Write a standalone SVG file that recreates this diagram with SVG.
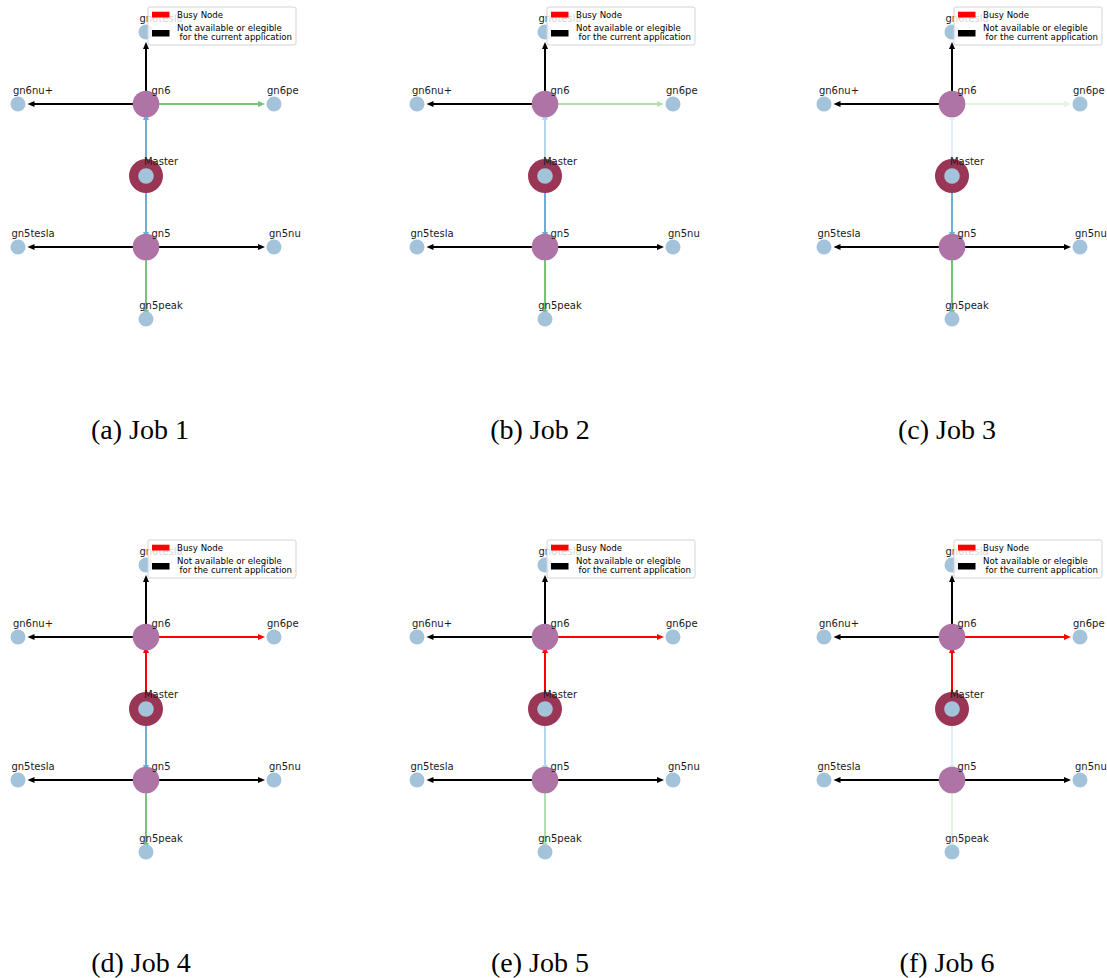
<svg xmlns="http://www.w3.org/2000/svg" xmlns:xlink="http://www.w3.org/1999/xlink" width="1107" height="978" viewBox="0 0 1107 978">
<style>
.lbl{font-family:"DejaVu Sans",sans-serif;font-size:10px;fill:#1a1a1a;text-anchor:middle}
.lg{font-family:"DejaVu Sans",sans-serif;font-size:8.6px;fill:#000}
.cap{font-family:"Liberation Serif","Times New Roman",serif;font-size:28px;fill:#000;text-anchor:middle}
.leaf{fill:#a3c3da}
.hub{fill:#ad74a5}
.ring{fill:#9a3655}
.e line{stroke-width:2}
.k line{stroke:#000}.k use{fill:#000}
.g line{stroke:#74c476}.g use{fill:#74c476}
.b line{stroke:#6baed6}.b use{fill:#6baed6}
.r line{stroke:#ff0000}.r use{fill:#ff0000}
.legbox{fill:#fff;fill-opacity:0.8;stroke:#d3d3d3;stroke-width:1}
</style>
<defs>
<path id="ah" d="M0,0 L-7,-3 L-7,3 Z"/>
</defs>
<rect width="1107" height="978" fill="#fff"/>

<!-- Panel a -->
<g id="panel-a" transform="translate(0,0)">
<g id="a-edges">
<g class="e k"><line x1="146" y1="91" x2="146" y2="48"/><use xlink:href="#ah" transform="translate(146,42) rotate(-90)"/></g>
<g class="e k"><line x1="133" y1="104" x2="33" y2="104"/><use xlink:href="#ah" transform="translate(27.5,104) rotate(180)"/></g>
<g class="e g"><line x1="159" y1="104" x2="259" y2="104"/><use xlink:href="#ah" transform="translate(265,104)"/></g>
<g class="e b"><line x1="146" y1="160" x2="146" y2="118"/><use xlink:href="#ah" transform="translate(146,113) rotate(-90)"/></g>
<g class="e b"><line x1="146" y1="192" x2="146" y2="234"/><use xlink:href="#ah" transform="translate(146,239) rotate(90)"/></g>
<g class="e k"><line x1="133" y1="247" x2="33" y2="247"/><use xlink:href="#ah" transform="translate(27.5,247) rotate(180)"/></g>
<g class="e k"><line x1="159" y1="247" x2="259" y2="247"/><use xlink:href="#ah" transform="translate(265,247)"/></g>
<g class="e g"><line x1="146" y1="260" x2="146" y2="312"/><use xlink:href="#ah" transform="translate(146,317) rotate(90)"/></g>
</g>
<g id="a-gn6tesla"><circle class="leaf" cx="146" cy="32" r="7.5"/><text class="lbl" x="161" y="22">gn6tesla</text></g>
<g id="a-gn6nu"><circle class="leaf" cx="18" cy="104" r="7.5"/><text class="lbl" x="33" y="94">gn6nu+</text></g>
<g id="a-gn6"><circle class="hub" cx="146" cy="104" r="13.3"/><text class="lbl" x="161" y="94">gn6</text></g>
<g id="a-gn6peak"><circle class="leaf" cx="274" cy="104" r="7.5"/><text class="lbl" x="267" y="94" style="text-anchor:start">gn6pe</text></g>
<g id="a-master"><circle class="ring" cx="146" cy="176" r="17"/><circle class="leaf" cx="146" cy="176" r="7.8"/><text class="lbl" x="161" y="165">Master</text></g>
<g id="a-gn5"><circle class="hub" cx="146" cy="247" r="13.3"/><text class="lbl" x="161" y="237">gn5</text></g>
<g id="a-gn5tesla"><circle class="leaf" cx="18" cy="247" r="7.5"/><text class="lbl" x="33" y="237">gn5tesla</text></g>
<g id="a-gn5nu"><circle class="leaf" cx="274" cy="247" r="7.5"/><text class="lbl" x="269" y="237" style="text-anchor:start">gn5nu</text></g>
<g id="a-gn5peak"><circle class="leaf" cx="146" cy="319" r="7.5"/><text class="lbl" x="161" y="309">gn5peak</text></g>
<g id="a-legend"><rect class="legbox" x="148" y="7" width="148" height="38" rx="2"/><rect x="152" y="11.7" width="17.5" height="5.8" fill="#ff0000"/><rect x="152" y="30" width="17.5" height="6.5" fill="#000"/><text class="lg" x="177" y="17.5">Busy Node</text><text class="lg" x="177" y="30.5">Not available or elegible</text><text class="lg" x="179.5" y="40">for the current application</text></g>
<text class="cap" x="140" y="439">(a) Job 1</text>
</g>

<!-- Panel b -->
<g id="panel-b" transform="translate(399,0)">
<g id="b-edges">
<g class="e k"><line x1="146" y1="91" x2="146" y2="48"/><use xlink:href="#ah" transform="translate(146,42) rotate(-90)"/></g>
<g class="e k"><line x1="133" y1="104" x2="33" y2="104"/><use xlink:href="#ah" transform="translate(27.5,104) rotate(180)"/></g>
<g class="e g" opacity="0.55"><line x1="159" y1="104" x2="259" y2="104"/><use xlink:href="#ah" transform="translate(265,104)"/></g>
<g class="e b" opacity="0.5"><line x1="146" y1="160" x2="146" y2="118"/><use xlink:href="#ah" transform="translate(146,113) rotate(-90)"/></g>
<g class="e b"><line x1="146" y1="192" x2="146" y2="234"/><use xlink:href="#ah" transform="translate(146,239) rotate(90)"/></g>
<g class="e k"><line x1="133" y1="247" x2="33" y2="247"/><use xlink:href="#ah" transform="translate(27.5,247) rotate(180)"/></g>
<g class="e k"><line x1="159" y1="247" x2="259" y2="247"/><use xlink:href="#ah" transform="translate(265,247)"/></g>
<g class="e g"><line x1="146" y1="260" x2="146" y2="312"/><use xlink:href="#ah" transform="translate(146,317) rotate(90)"/></g>
</g>
<g id="b-gn6tesla"><circle class="leaf" cx="146" cy="32" r="7.5"/><text class="lbl" x="161" y="22">gn6tesla</text></g>
<g id="b-gn6nu"><circle class="leaf" cx="18" cy="104" r="7.5"/><text class="lbl" x="33" y="94">gn6nu+</text></g>
<g id="b-gn6"><circle class="hub" cx="146" cy="104" r="13.3"/><text class="lbl" x="161" y="94">gn6</text></g>
<g id="b-gn6peak"><circle class="leaf" cx="274" cy="104" r="7.5"/><text class="lbl" x="267" y="94" style="text-anchor:start">gn6pe</text></g>
<g id="b-master"><circle class="ring" cx="146" cy="176" r="17"/><circle class="leaf" cx="146" cy="176" r="7.8"/><text class="lbl" x="161" y="165">Master</text></g>
<g id="b-gn5"><circle class="hub" cx="146" cy="247" r="13.3"/><text class="lbl" x="161" y="237">gn5</text></g>
<g id="b-gn5tesla"><circle class="leaf" cx="18" cy="247" r="7.5"/><text class="lbl" x="33" y="237">gn5tesla</text></g>
<g id="b-gn5nu"><circle class="leaf" cx="274" cy="247" r="7.5"/><text class="lbl" x="269" y="237" style="text-anchor:start">gn5nu</text></g>
<g id="b-gn5peak"><circle class="leaf" cx="146" cy="319" r="7.5"/><text class="lbl" x="161" y="309">gn5peak</text></g>
<g id="b-legend"><rect class="legbox" x="148" y="7" width="148" height="38" rx="2"/><rect x="152" y="11.7" width="17.5" height="5.8" fill="#ff0000"/><rect x="152" y="30" width="17.5" height="6.5" fill="#000"/><text class="lg" x="177" y="17.5">Busy Node</text><text class="lg" x="177" y="30.5">Not available or elegible</text><text class="lg" x="179.5" y="40">for the current application</text></g>
<text class="cap" x="141" y="439">(b) Job 2</text>
</g>

<!-- Panel c -->
<g id="panel-c" transform="translate(806,0)">
<g id="c-edges">
<g class="e k"><line x1="146" y1="91" x2="146" y2="48"/><use xlink:href="#ah" transform="translate(146,42) rotate(-90)"/></g>
<g class="e k"><line x1="133" y1="104" x2="33" y2="104"/><use xlink:href="#ah" transform="translate(27.5,104) rotate(180)"/></g>
<g class="e g" opacity="0.2"><line x1="159" y1="104" x2="259" y2="104"/><use xlink:href="#ah" transform="translate(265,104)"/></g>
<g class="e b" opacity="0.2"><line x1="146" y1="160" x2="146" y2="118"/><use xlink:href="#ah" transform="translate(146,113) rotate(-90)"/></g>
<g class="e b"><line x1="146" y1="192" x2="146" y2="234"/><use xlink:href="#ah" transform="translate(146,239) rotate(90)"/></g>
<g class="e k"><line x1="133" y1="247" x2="33" y2="247"/><use xlink:href="#ah" transform="translate(27.5,247) rotate(180)"/></g>
<g class="e k"><line x1="159" y1="247" x2="259" y2="247"/><use xlink:href="#ah" transform="translate(265,247)"/></g>
<g class="e g"><line x1="146" y1="260" x2="146" y2="312"/><use xlink:href="#ah" transform="translate(146,317) rotate(90)"/></g>
</g>
<g id="c-gn6tesla"><circle class="leaf" cx="146" cy="32" r="7.5"/><text class="lbl" x="161" y="22">gn6tesla</text></g>
<g id="c-gn6nu"><circle class="leaf" cx="18" cy="104" r="7.5"/><text class="lbl" x="33" y="94">gn6nu+</text></g>
<g id="c-gn6"><circle class="hub" cx="146" cy="104" r="13.3"/><text class="lbl" x="161" y="94">gn6</text></g>
<g id="c-gn6peak"><circle class="leaf" cx="274" cy="104" r="7.5"/><text class="lbl" x="267" y="94" style="text-anchor:start">gn6pe</text></g>
<g id="c-master"><circle class="ring" cx="146" cy="176" r="17"/><circle class="leaf" cx="146" cy="176" r="7.8"/><text class="lbl" x="161" y="165">Master</text></g>
<g id="c-gn5"><circle class="hub" cx="146" cy="247" r="13.3"/><text class="lbl" x="161" y="237">gn5</text></g>
<g id="c-gn5tesla"><circle class="leaf" cx="18" cy="247" r="7.5"/><text class="lbl" x="33" y="237">gn5tesla</text></g>
<g id="c-gn5nu"><circle class="leaf" cx="274" cy="247" r="7.5"/><text class="lbl" x="269" y="237" style="text-anchor:start">gn5nu</text></g>
<g id="c-gn5peak"><circle class="leaf" cx="146" cy="319" r="7.5"/><text class="lbl" x="161" y="309">gn5peak</text></g>
<g id="c-legend"><rect class="legbox" x="148" y="7" width="148" height="38" rx="2"/><rect x="152" y="11.7" width="17.5" height="5.8" fill="#ff0000"/><rect x="152" y="30" width="17.5" height="6.5" fill="#000"/><text class="lg" x="177" y="17.5">Busy Node</text><text class="lg" x="177" y="30.5">Not available or elegible</text><text class="lg" x="179.5" y="40">for the current application</text></g>
<text class="cap" x="141" y="439">(c) Job 3</text>
</g>

<!-- Panel d -->
<g id="panel-d" transform="translate(0,533)">
<g id="d-edges">
<g class="e k"><line x1="146" y1="91" x2="146" y2="48"/><use xlink:href="#ah" transform="translate(146,42) rotate(-90)"/></g>
<g class="e k"><line x1="133" y1="104" x2="33" y2="104"/><use xlink:href="#ah" transform="translate(27.5,104) rotate(180)"/></g>
<g class="e r"><line x1="159" y1="104" x2="259" y2="104"/><use xlink:href="#ah" transform="translate(265,104)"/></g>
<g class="e r"><line x1="146" y1="160" x2="146" y2="118"/><use xlink:href="#ah" transform="translate(146,113) rotate(-90)"/></g>
<g class="e b"><line x1="146" y1="192" x2="146" y2="234"/><use xlink:href="#ah" transform="translate(146,239) rotate(90)"/></g>
<g class="e k"><line x1="133" y1="247" x2="33" y2="247"/><use xlink:href="#ah" transform="translate(27.5,247) rotate(180)"/></g>
<g class="e k"><line x1="159" y1="247" x2="259" y2="247"/><use xlink:href="#ah" transform="translate(265,247)"/></g>
<g class="e g"><line x1="146" y1="260" x2="146" y2="312"/><use xlink:href="#ah" transform="translate(146,317) rotate(90)"/></g>
</g>
<g id="d-gn6tesla"><circle class="leaf" cx="146" cy="32" r="7.5"/><text class="lbl" x="161" y="22">gn6tesla</text></g>
<g id="d-gn6nu"><circle class="leaf" cx="18" cy="104" r="7.5"/><text class="lbl" x="33" y="94">gn6nu+</text></g>
<g id="d-gn6"><circle class="hub" cx="146" cy="104" r="13.3"/><text class="lbl" x="161" y="94">gn6</text></g>
<g id="d-gn6peak"><circle class="leaf" cx="274" cy="104" r="7.5"/><text class="lbl" x="267" y="94" style="text-anchor:start">gn6pe</text></g>
<g id="d-master"><circle class="ring" cx="146" cy="176" r="17"/><circle class="leaf" cx="146" cy="176" r="7.8"/><text class="lbl" x="161" y="165">Master</text></g>
<g id="d-gn5"><circle class="hub" cx="146" cy="247" r="13.3"/><text class="lbl" x="161" y="237">gn5</text></g>
<g id="d-gn5tesla"><circle class="leaf" cx="18" cy="247" r="7.5"/><text class="lbl" x="33" y="237">gn5tesla</text></g>
<g id="d-gn5nu"><circle class="leaf" cx="274" cy="247" r="7.5"/><text class="lbl" x="269" y="237" style="text-anchor:start">gn5nu</text></g>
<g id="d-gn5peak"><circle class="leaf" cx="146" cy="319" r="7.5"/><text class="lbl" x="161" y="309">gn5peak</text></g>
<g id="d-legend"><rect class="legbox" x="148" y="7" width="148" height="38" rx="2"/><rect x="152" y="11.7" width="17.5" height="5.8" fill="#ff0000"/><rect x="152" y="30" width="17.5" height="6.5" fill="#000"/><text class="lg" x="177" y="17.5">Busy Node</text><text class="lg" x="177" y="30.5">Not available or elegible</text><text class="lg" x="179.5" y="40">for the current application</text></g>
<text class="cap" x="141" y="439">(d) Job 4</text>
</g>

<!-- Panel e -->
<g id="panel-e" transform="translate(399,533)">
<g id="e-edges">
<g class="e k"><line x1="146" y1="91" x2="146" y2="48"/><use xlink:href="#ah" transform="translate(146,42) rotate(-90)"/></g>
<g class="e k"><line x1="133" y1="104" x2="33" y2="104"/><use xlink:href="#ah" transform="translate(27.5,104) rotate(180)"/></g>
<g class="e r"><line x1="159" y1="104" x2="259" y2="104"/><use xlink:href="#ah" transform="translate(265,104)"/></g>
<g class="e r"><line x1="146" y1="160" x2="146" y2="118"/><use xlink:href="#ah" transform="translate(146,113) rotate(-90)"/></g>
<g class="e b" opacity="0.5"><line x1="146" y1="192" x2="146" y2="234"/><use xlink:href="#ah" transform="translate(146,239) rotate(90)"/></g>
<g class="e k"><line x1="133" y1="247" x2="33" y2="247"/><use xlink:href="#ah" transform="translate(27.5,247) rotate(180)"/></g>
<g class="e k"><line x1="159" y1="247" x2="259" y2="247"/><use xlink:href="#ah" transform="translate(265,247)"/></g>
<g class="e g" opacity="0.55"><line x1="146" y1="260" x2="146" y2="312"/><use xlink:href="#ah" transform="translate(146,317) rotate(90)"/></g>
</g>
<g id="e-gn6tesla"><circle class="leaf" cx="146" cy="32" r="7.5"/><text class="lbl" x="161" y="22">gn6tesla</text></g>
<g id="e-gn6nu"><circle class="leaf" cx="18" cy="104" r="7.5"/><text class="lbl" x="33" y="94">gn6nu+</text></g>
<g id="e-gn6"><circle class="hub" cx="146" cy="104" r="13.3"/><text class="lbl" x="161" y="94">gn6</text></g>
<g id="e-gn6peak"><circle class="leaf" cx="274" cy="104" r="7.5"/><text class="lbl" x="267" y="94" style="text-anchor:start">gn6pe</text></g>
<g id="e-master"><circle class="ring" cx="146" cy="176" r="17"/><circle class="leaf" cx="146" cy="176" r="7.8"/><text class="lbl" x="161" y="165">Master</text></g>
<g id="e-gn5"><circle class="hub" cx="146" cy="247" r="13.3"/><text class="lbl" x="161" y="237">gn5</text></g>
<g id="e-gn5tesla"><circle class="leaf" cx="18" cy="247" r="7.5"/><text class="lbl" x="33" y="237">gn5tesla</text></g>
<g id="e-gn5nu"><circle class="leaf" cx="274" cy="247" r="7.5"/><text class="lbl" x="269" y="237" style="text-anchor:start">gn5nu</text></g>
<g id="e-gn5peak"><circle class="leaf" cx="146" cy="319" r="7.5"/><text class="lbl" x="161" y="309">gn5peak</text></g>
<g id="e-legend"><rect class="legbox" x="148" y="7" width="148" height="38" rx="2"/><rect x="152" y="11.7" width="17.5" height="5.8" fill="#ff0000"/><rect x="152" y="30" width="17.5" height="6.5" fill="#000"/><text class="lg" x="177" y="17.5">Busy Node</text><text class="lg" x="177" y="30.5">Not available or elegible</text><text class="lg" x="179.5" y="40">for the current application</text></g>
<text class="cap" x="141" y="439">(e) Job 5</text>
</g>

<!-- Panel f -->
<g id="panel-f" transform="translate(806,533)">
<g id="f-edges">
<g class="e k"><line x1="146" y1="91" x2="146" y2="48"/><use xlink:href="#ah" transform="translate(146,42) rotate(-90)"/></g>
<g class="e k"><line x1="133" y1="104" x2="33" y2="104"/><use xlink:href="#ah" transform="translate(27.5,104) rotate(180)"/></g>
<g class="e r"><line x1="159" y1="104" x2="259" y2="104"/><use xlink:href="#ah" transform="translate(265,104)"/></g>
<g class="e r"><line x1="146" y1="160" x2="146" y2="118"/><use xlink:href="#ah" transform="translate(146,113) rotate(-90)"/></g>
<g class="e b" opacity="0.2"><line x1="146" y1="192" x2="146" y2="234"/><use xlink:href="#ah" transform="translate(146,239) rotate(90)"/></g>
<g class="e k"><line x1="133" y1="247" x2="33" y2="247"/><use xlink:href="#ah" transform="translate(27.5,247) rotate(180)"/></g>
<g class="e k"><line x1="159" y1="247" x2="259" y2="247"/><use xlink:href="#ah" transform="translate(265,247)"/></g>
<g class="e g" opacity="0.2"><line x1="146" y1="260" x2="146" y2="312"/><use xlink:href="#ah" transform="translate(146,317) rotate(90)"/></g>
</g>
<g id="f-gn6tesla"><circle class="leaf" cx="146" cy="32" r="7.5"/><text class="lbl" x="161" y="22">gn6tesla</text></g>
<g id="f-gn6nu"><circle class="leaf" cx="18" cy="104" r="7.5"/><text class="lbl" x="33" y="94">gn6nu+</text></g>
<g id="f-gn6"><circle class="hub" cx="146" cy="104" r="13.3"/><text class="lbl" x="161" y="94">gn6</text></g>
<g id="f-gn6peak"><circle class="leaf" cx="274" cy="104" r="7.5"/><text class="lbl" x="267" y="94" style="text-anchor:start">gn6pe</text></g>
<g id="f-master"><circle class="ring" cx="146" cy="176" r="17"/><circle class="leaf" cx="146" cy="176" r="7.8"/><text class="lbl" x="161" y="165">Master</text></g>
<g id="f-gn5"><circle class="hub" cx="146" cy="247" r="13.3"/><text class="lbl" x="161" y="237">gn5</text></g>
<g id="f-gn5tesla"><circle class="leaf" cx="18" cy="247" r="7.5"/><text class="lbl" x="33" y="237">gn5tesla</text></g>
<g id="f-gn5nu"><circle class="leaf" cx="274" cy="247" r="7.5"/><text class="lbl" x="269" y="237" style="text-anchor:start">gn5nu</text></g>
<g id="f-gn5peak"><circle class="leaf" cx="146" cy="319" r="7.5"/><text class="lbl" x="161" y="309">gn5peak</text></g>
<g id="f-legend"><rect class="legbox" x="148" y="7" width="148" height="38" rx="2"/><rect x="152" y="11.7" width="17.5" height="5.8" fill="#ff0000"/><rect x="152" y="30" width="17.5" height="6.5" fill="#000"/><text class="lg" x="177" y="17.5">Busy Node</text><text class="lg" x="177" y="30.5">Not available or elegible</text><text class="lg" x="179.5" y="40">for the current application</text></g>
<text class="cap" x="141" y="439">(f) Job 6</text>
</g>
</svg>
